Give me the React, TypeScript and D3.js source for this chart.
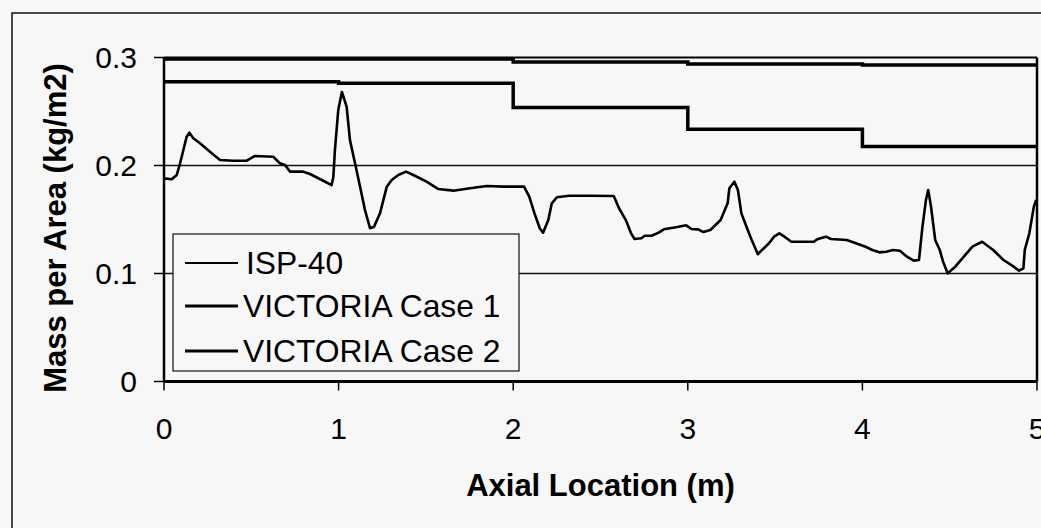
import React from "react";
import * as d3 from "d3";

// ISP-40 measured profile: axial location (m) and mass per area (kg/m2)
const ispX = [0.000,0.044,0.073,0.092,0.111,0.130,0.145,0.168,0.206,0.263,0.321,0.397,0.474,0.521,0.626,0.664,0.693,0.722,0.798,0.836,0.912,0.960,0.970,0.979,0.998,1.019,1.046,1.065,1.094,1.123,1.151,1.180,1.203,1.237,1.276,1.304,1.342,1.386,1.428,1.504,1.571,1.657,1.753,1.848,1.943,2.062,2.092,2.122,2.152,2.171,2.201,2.221,2.250,2.320,2.438,2.576,2.606,2.645,2.675,2.695,2.734,2.754,2.793,2.833,2.863,2.932,2.991,3.021,3.060,3.089,3.129,3.188,3.228,3.238,3.267,3.287,3.307,3.336,3.366,3.401,3.425,3.465,3.494,3.524,3.554,3.593,3.662,3.722,3.741,3.791,3.820,3.910,3.939,4.018,4.057,4.097,4.136,4.176,4.215,4.255,4.294,4.324,4.344,4.364,4.377,4.393,4.417,4.443,4.462,4.488,4.532,4.581,4.630,4.686,4.749,4.808,4.867,4.897,4.922,4.930,4.956,4.982,4.995];
const ispY = [0.1881,0.1872,0.1912,0.2020,0.2144,0.2267,0.2304,0.2252,0.2206,0.2128,0.2051,0.2044,0.2044,0.2088,0.2081,0.2020,0.2005,0.1943,0.1943,0.1921,0.1859,0.1819,0.1896,0.2144,0.2514,0.2681,0.2544,0.2236,0.2020,0.1804,0.1588,0.1419,0.1433,0.1557,0.1804,0.1866,0.1912,0.1943,0.1912,0.1850,0.1782,0.1767,0.1789,0.1810,0.1804,0.1804,0.1711,0.1557,0.1419,0.1378,0.1495,0.1650,0.1706,0.1720,0.1720,0.1718,0.1604,0.1495,0.1372,0.1319,0.1326,0.1350,0.1350,0.1378,0.1409,0.1428,0.1446,0.1412,0.1409,0.1384,0.1403,0.1495,0.1650,0.1789,0.1850,0.1773,0.1557,0.1433,0.1310,0.1178,0.1218,0.1280,0.1341,0.1372,0.1341,0.1294,0.1294,0.1294,0.1317,0.1341,0.1319,0.1310,0.1294,0.1248,0.1218,0.1196,0.1202,0.1218,0.1211,0.1156,0.1119,0.1125,0.1433,0.1681,0.1773,0.1619,0.1310,0.1218,0.1110,0.1002,0.1063,0.1156,0.1248,0.1294,0.1218,0.1125,0.1063,0.1026,0.1048,0.1218,0.1372,0.1619,0.1681];

// VICTORIA Case 1 (step profile)
const case1X = [0, 2, 3, 4, 5];
const case1Y = [0.2985, 0.2958, 0.2940, 0.2931, 0.2931];

// VICTORIA Case 2 (step profile)
const case2X = [0, 1, 2, 3, 4, 5];
const case2Y = [0.2776, 0.2761, 0.2537, 0.2335, 0.2177, 0.2177];

const xTicks = [0, 1, 2, 3, 4, 5];
const yTicks = [0, 0.1, 0.2, 0.3];
const gridY = [0.1, 0.2];
const seriesNames = ["ISP-40", "VICTORIA Case 1", "VICTORIA Case 2"];

const W = 1041;
const H = 528;
const left = 164, right = 1037, top = 57.5, bottom = 381.5;
const FONT = "Arial, 'Liberation Sans', Helvetica, sans-serif";

export default function App() {
  const x = d3.scaleLinear().domain([0, 5]).range([left, right]);
  const y = d3.scaleLinear().domain([0, 0.3]).range([bottom, top]);

  const line = d3.line<[number, number]>().x(d => x(d[0])).y(d => y(d[1]));
  const stepLine = d3.line<[number, number]>().x(d => x(d[0])).y(d => y(d[1])).curve(d3.curveStepAfter);

  const isp: [number, number][] = ispX.map((v, i) => [v, ispY[i]]);
  const c1: [number, number][] = case1X.map((v, i) => [v, case1Y[i]]);
  const c2: [number, number][] = case2X.map((v, i) => [v, case2Y[i]]);

  const legendWidths = [2, 3.2, 3.2];

  return (
    <svg width={W} height={H} style={{ position: "absolute", left: 0, top: 0, background: "#f6f7f6" }} fontFamily={FONT}>
      <rect x={0} y={0} width={W} height={H} fill="#f6f7f6" />
      {/* outer chart border */}
      <rect x={12} y={13} width={1100} height={600} fill="none" stroke="#111" strokeWidth={1.5} />

      {/* gridlines */}
      {gridY.map(g => (
        <line key={g} x1={left} x2={right} y1={y(g)} y2={y(g)} stroke="#111" strokeWidth={1.6} />
      ))}

      {/* series */}
      <path d={stepLine(c2) || ""} fill="none" stroke="#000" strokeWidth={3.5} />
      <path d={stepLine(c1) || ""} fill="none" stroke="#000" strokeWidth={3.5} />
      <path d={line(isp) || ""} fill="none" stroke="#000" strokeWidth={2.6} strokeLinejoin="round" />

      {/* plot frame */}
      <line x1={left} x2={right} y1={top} y2={top} stroke="#000" strokeWidth={2} />
      <line x1={right} x2={right} y1={top} y2={bottom} stroke="#000" strokeWidth={2.5} />
      <line x1={left} x2={left} y1={top} y2={bottom} stroke="#000" strokeWidth={2.5} />
      <line x1={left} x2={right} y1={bottom} y2={bottom} stroke="#000" strokeWidth={3} />

      {/* y ticks */}
      {yTicks.map(t => (
        <g key={t}>
          <line x1={left - 10} x2={left} y1={y(t)} y2={y(t)} stroke="#000" strokeWidth={1.5} />
          <text x={137} y={y(t)} dy="0.36em" textAnchor="end" fontSize={30} fill="#000">
            {t === 0 ? "0" : d3.format(".1f")(t)}
          </text>
        </g>
      ))}

      {/* x ticks */}
      {xTicks.map(t => (
        <g key={t}>
          <line x1={x(t)} x2={x(t)} y1={bottom} y2={bottom + 9} stroke="#000" strokeWidth={1.5} />
          <text x={x(t)} y={439} textAnchor="middle" fontSize={30} fill="#000">{t}</text>
        </g>
      ))}

      {/* axis titles */}
      <text x={(left + right) / 2} y={496} textAnchor="middle" fontSize={31} fontWeight="bold" fill="#000">
        Axial Location (m)
      </text>
      <text transform={`translate(66,228) rotate(-90)`} textAnchor="middle" fontSize={31} fontWeight="bold" fill="#000">
        Mass per Area (kg/m2)
      </text>

      {/* legend */}
      <rect x={173} y={234} width={346} height={137} fill="#f6f7f6" stroke="#111" strokeWidth={1.2} />
      {seriesNames.map((n, i) => {
        const ly = [263, 306, 351][i];
        return (
          <g key={n}>
            <line x1={185} x2={238} y1={ly} y2={ly} stroke="#000" strokeWidth={legendWidths[i]} />
            <text x={i === 0 ? 246 : 243} y={ly} dy="0.36em" fontSize={31.8} fill="#000">{n}</text>
          </g>
        );
      })}
    </svg>
  );
}
